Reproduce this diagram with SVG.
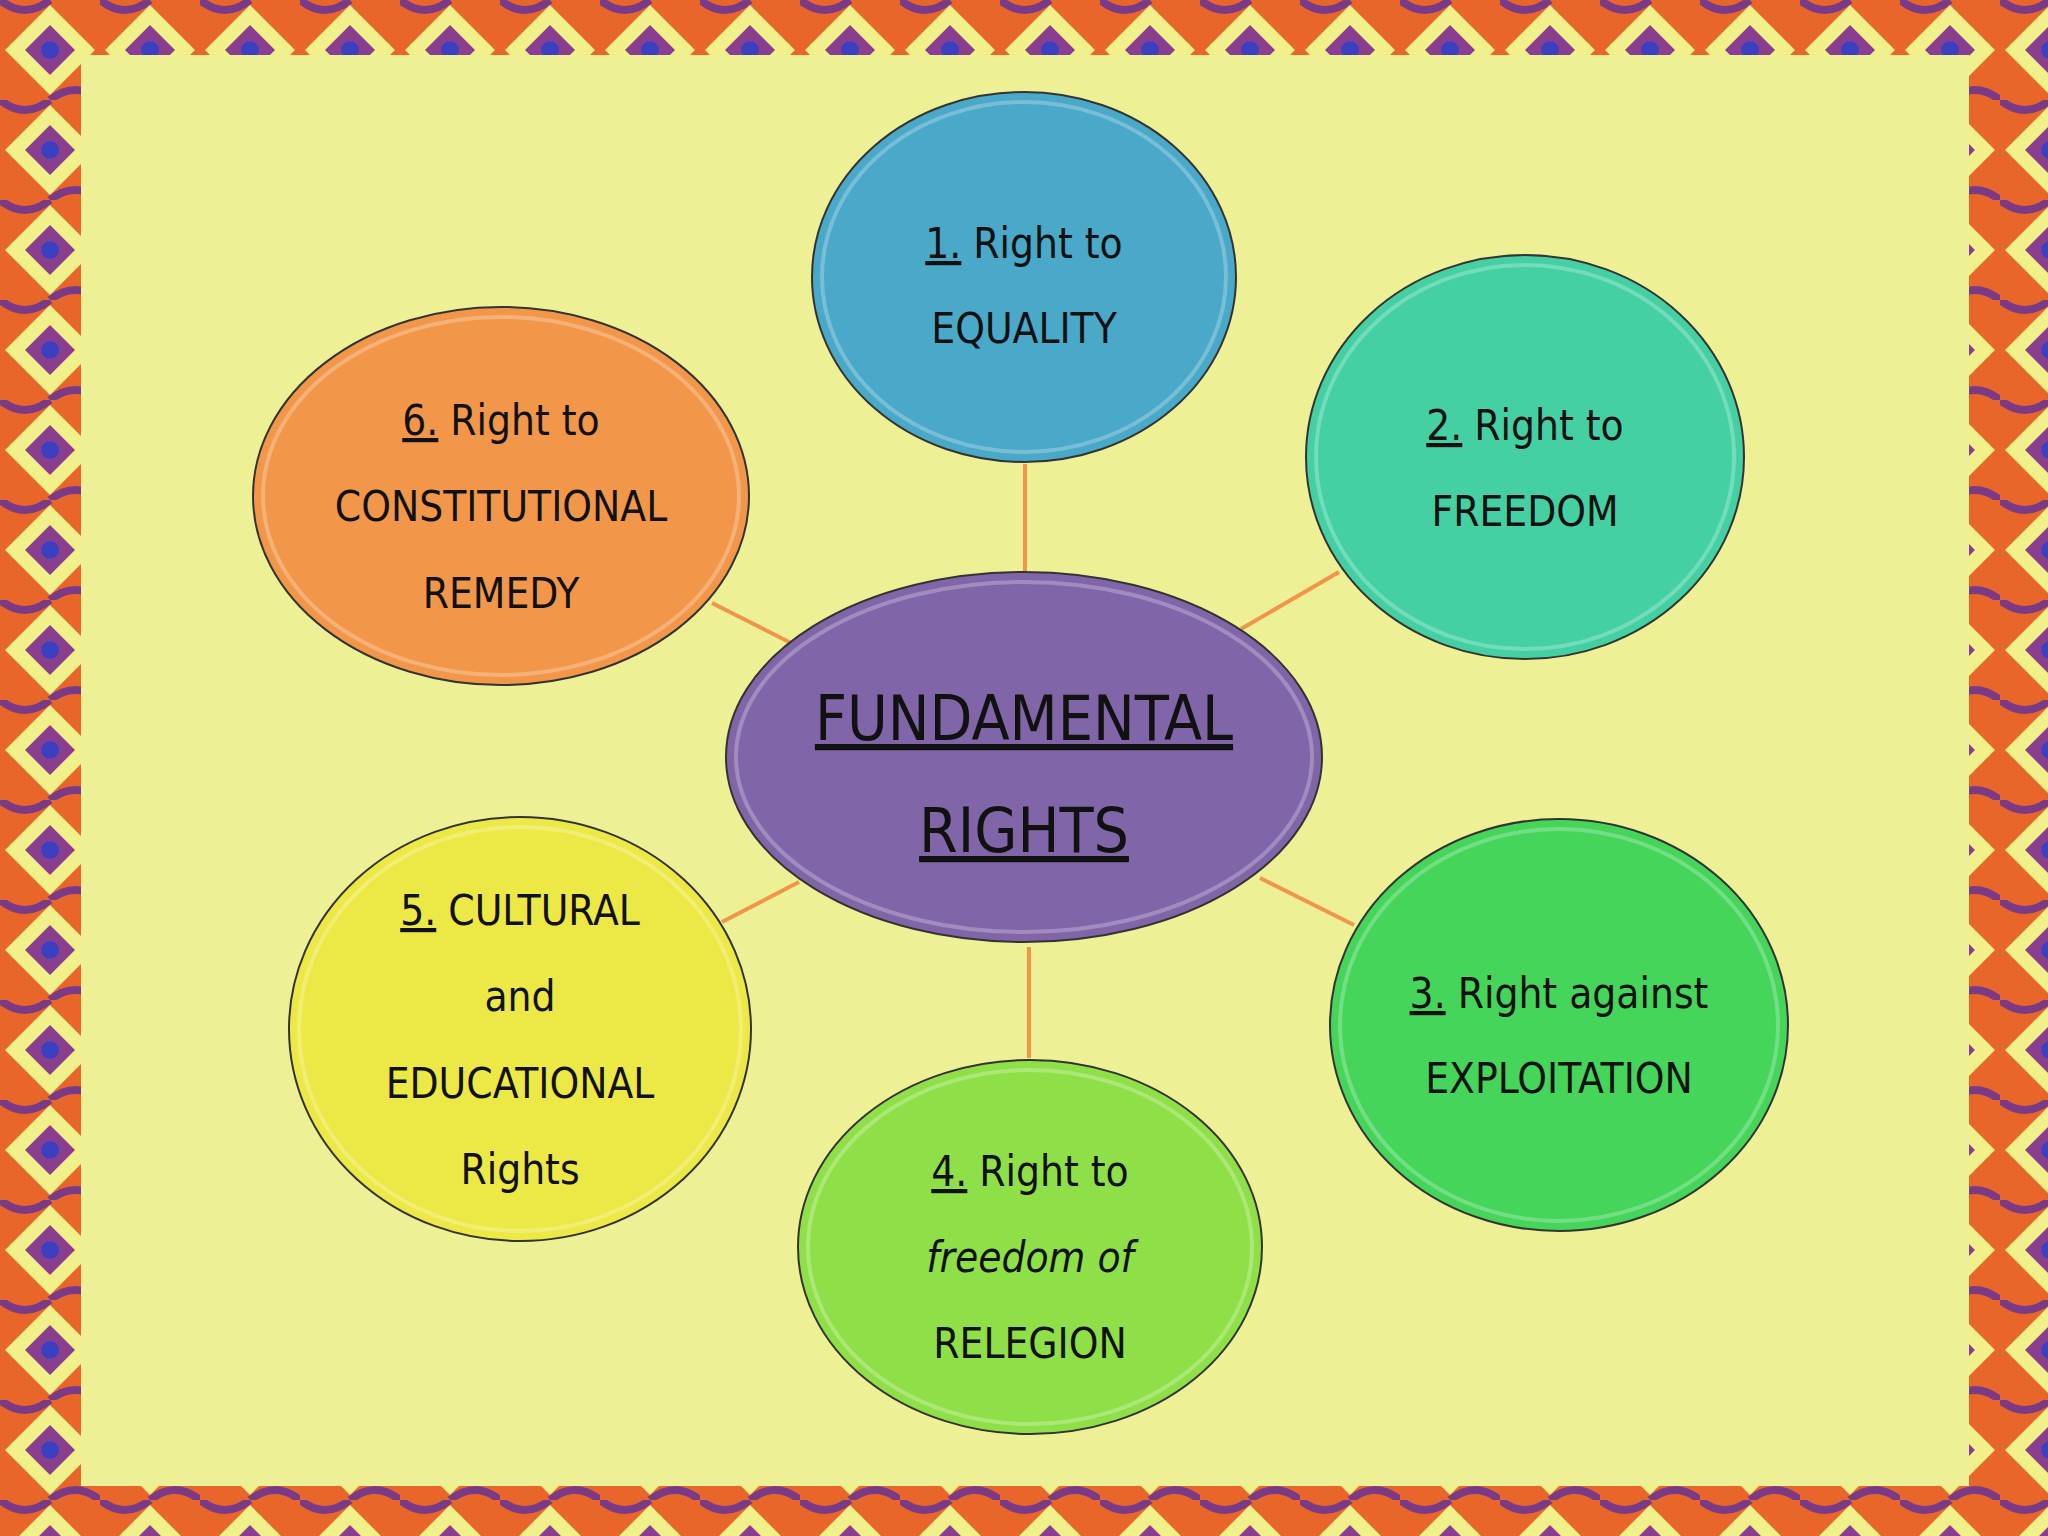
<svg xmlns="http://www.w3.org/2000/svg" width="2048" height="1536" viewBox="0 0 2048 1536">
<style>
.n{stroke:#333;stroke-width:2}
.t{font-family:"DejaVu Sans Condensed","DejaVu Sans",sans-serif;font-size:42px;fill:#111;text-anchor:middle}
.big{font-size:62px}
.u{text-decoration:underline}
.c{stroke:#f0954a;stroke-width:4}
.h{fill:none;stroke:#fff;stroke-opacity:.25;stroke-width:4}
</style>
<defs>
<pattern id="bd" width="100" height="100" patternUnits="userSpaceOnUse">
<rect width="100" height="100" fill="#e8662a"/>
<polygon points="50,5 95,50 50,95 5,50" fill="#f2f08a"/>
<polygon points="50,25 75,50 50,75 25,50" fill="#8a3f8e"/>
<circle cx="50" cy="50" r="9" fill="#3b3fc0"/>
<path d="M0,0 Q25,20 50,0 M50,100 Q75,80 100,100" stroke="#7b3a86" stroke-width="8" fill="none"/>
</pattern>
</defs>
<rect width="2048" height="1536" fill="url(#bd)"/>
<rect x="81" y="55" width="1888" height="1431" fill="#eef095"/>
<g id="connectors">
<line class="c" x1="1025" y1="464" x2="1025" y2="575"/>
<line class="c" x1="1241" y1="629" x2="1339" y2="572"/>
<line class="c" x1="1260" y1="878" x2="1354" y2="925"/>
<line class="c" x1="1029" y1="947" x2="1029" y2="1058"/>
<line class="c" x1="722" y1="922" x2="799" y2="882"/>
<line class="c" x1="712" y1="603" x2="791" y2="643"/>
</g>
<g id="center">
<ellipse class="n" cx="1024" cy="757" rx="298" ry="185" fill="#8066a8"/>
<ellipse class="h" cx="1024" cy="757" rx="288" ry="175"/>
<text class="t big u" x="1024" y="740">FUNDAMENTAL</text>
<text class="t big u" x="1024" y="852">RIGHTS</text>
</g>
<g id="n1">
<ellipse class="n" cx="1024" cy="277" rx="212" ry="185" fill="#4aa8c8"/>
<ellipse class="h" cx="1024" cy="277" rx="202" ry="175"/>
<text class="t" x="1024" y="258"><tspan class="u">1.</tspan> Right to</text>
<text class="t" x="1024" y="343">EQUALITY</text>
</g>
<g id="n2">
<ellipse class="n" cx="1525" cy="457" rx="219" ry="202" fill="#45d0a4"/>
<ellipse class="h" cx="1525" cy="457" rx="209" ry="192"/>
<text class="t" x="1525" y="440"><tspan class="u">2.</tspan> Right  to</text>
<text class="t" x="1525" y="526">FREEDOM</text>
</g>
<g id="n3">
<ellipse class="n" cx="1559" cy="1025" rx="229" ry="206" fill="#45d55a"/>
<ellipse class="h" cx="1559" cy="1025" rx="219" ry="196"/>
<text class="t" x="1559" y="1008"><tspan class="u">3.</tspan> Right against</text>
<text class="t" x="1559" y="1093">EXPLOITATION</text>
</g>
<g id="n4">
<ellipse class="n" cx="1030" cy="1247" rx="232" ry="187" fill="#8fe048"/>
<ellipse class="h" cx="1030" cy="1247" rx="222" ry="177"/>
<text class="t" x="1030" y="1186"><tspan class="u">4.</tspan> Right to</text>
<text class="t" x="1030" y="1272" font-style="italic">freedom of</text>
<text class="t" x="1030" y="1358">RELEGION</text>
</g>
<g id="n5">
<ellipse class="n" cx="520" cy="1029" rx="231" ry="212" fill="#ece845"/>
<ellipse class="h" cx="520" cy="1029" rx="221" ry="202"/>
<text class="t" x="520" y="925"><tspan class="u">5.</tspan> CULTURAL</text>
<text class="t" x="520" y="1011">and</text>
<text class="t" x="520" y="1098">EDUCATIONAL</text>
<text class="t" x="520" y="1184">Rights</text>
</g>
<g id="n6">
<ellipse class="n" cx="501" cy="496" rx="248" ry="189" fill="#f2974a"/>
<ellipse class="h" cx="501" cy="496" rx="238" ry="179"/>
<text class="t" x="501" y="435"><tspan class="u">6.</tspan> Right to</text>
<text class="t" x="501" y="521">CONSTITUTIONAL</text>
<text class="t" x="501" y="608">REMEDY</text>
</g>
</svg>
